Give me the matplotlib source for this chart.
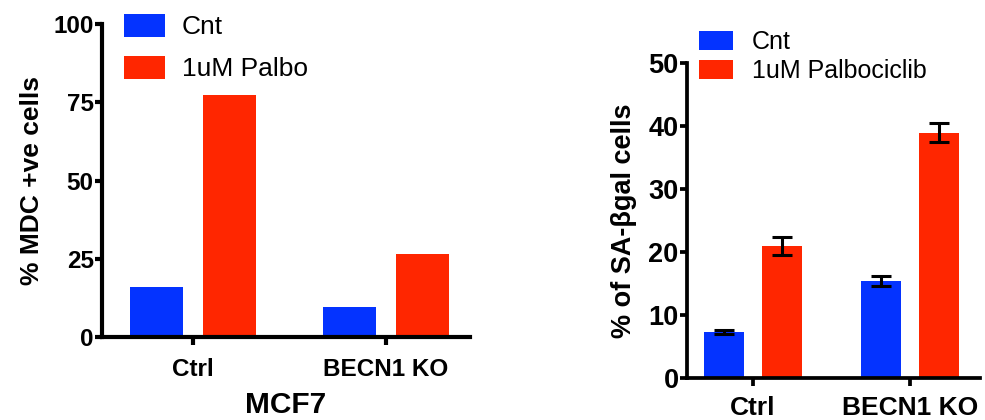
import matplotlib
matplotlib.use("Agg")
import matplotlib.pyplot as plt
import numpy as np

plt.rcParams['font.family'] = ['Liberation Sans', 'DejaVu Sans']

groups = ['Ctrl', 'BECN1 KO']
blue = '#0433FF'
red = '#FF2600'

# left panel: MDC staining
mdc_cnt = [16.0, 9.6]
mdc_palbo = [77.3, 26.5]

# right panel: SA-beta-gal
sa_cnt = [7.3, 15.4]
sa_cnt_err = [0.25, 0.75]
sa_palbo = [20.9, 38.9]
sa_palbo_err = [1.45, 1.5]

fig = plt.figure(figsize=(9.85, 4.2), dpi=100)

def style_axes(ax, lw):
    ax.spines['top'].set_visible(False)
    ax.spines['right'].set_visible(False)
    ax.spines['left'].set_linewidth(lw)
    ax.spines['bottom'].set_linewidth(lw)
    ax.tick_params(width=lw, length=5)

# ---- left ----
ax1 = fig.add_axes([102/985, 1-337/420, (470-102)/985, (337-24)/420])
x = np.arange(len(groups))
ax1.bar(x - 0.188, mdc_cnt, 0.275, color=blue, label='Cnt')
ax1.bar(x + 0.188, mdc_palbo, 0.275, color=red, label='1uM Palbo')
ax1.set_xlim(-0.47, 1.435)
ax1.set_ylim(0, 100)
ax1.set_yticks([0, 25, 50, 75, 100])
ax1.set_xticks(x)
ax1.set_xticklabels(groups, fontsize=17.5, fontweight='bold')
for t in ax1.get_yticklabels():
    t.set_fontsize(17.5)
    t.set_fontweight('bold')
style_axes(ax1, 3)
ax1.tick_params(axis='x', length=6, pad=9)
ax1.tick_params(axis='y', pad=1)
ax1.set_ylabel('% MDC +ve cells', fontsize=19, fontweight='bold', labelpad=7)
ax1.set_xlabel('MCF7', fontsize=21.5, fontweight='bold', labelpad=7)
ax1.legend(loc='upper left', bbox_to_anchor=(124/985, 1-14/420), bbox_transform=fig.transFigure,
           frameon=False, fontsize=19, handlelength=1.55, handleheight=0.95,
           handletextpad=0.65, labelspacing=0.62, borderpad=0, borderaxespad=0)

# ---- right ----
ax2 = fig.add_axes([687/985, 1-378/420, (980-687)/985, (378-62.7)/420])
ax2.bar(x - 0.187, sa_cnt, 0.255, color=blue, label='Cnt')
ax2.bar(x + 0.187, sa_palbo, 0.255, color=red, label='1uM Palbociclib')
ax2.errorbar(x - 0.187, sa_cnt, yerr=sa_cnt_err, fmt='none', ecolor='black',
             elinewidth=2.2, capsize=7, capthick=2.2)
ax2.errorbar(x + 0.187, sa_palbo, yerr=sa_palbo_err, fmt='none', ecolor='black',
             elinewidth=2.2, capsize=7, capthick=2.2)
ax2.set_xlim(-0.42, 1.446)
ax2.set_ylim(0, 50)
ax2.set_yticks([0, 10, 20, 30, 40, 50])
ax2.set_xticks(x)
ax2.set_xticklabels(groups, fontsize=19, fontweight='bold')
for t in ax2.get_yticklabels():
    t.set_fontsize(19.5)
    t.set_fontweight('bold')
style_axes(ax2, 2.7)
ax2.tick_params(axis='x', length=6, pad=7)
ax2.tick_params(axis='y', pad=1)
ax2.set_ylabel('% of SA-βgal cells', fontsize=19.5, fontweight='bold', labelpad=8)
ax2.legend(loc='upper left', bbox_to_anchor=(699/985, 1-30/420), bbox_transform=fig.transFigure,
           frameon=False, fontsize=18, handlelength=1.36, handleheight=0.76,
           handletextpad=0.75, labelspacing=0.2, borderpad=0, borderaxespad=0)

fig.savefig('out.png', dpi=100)
